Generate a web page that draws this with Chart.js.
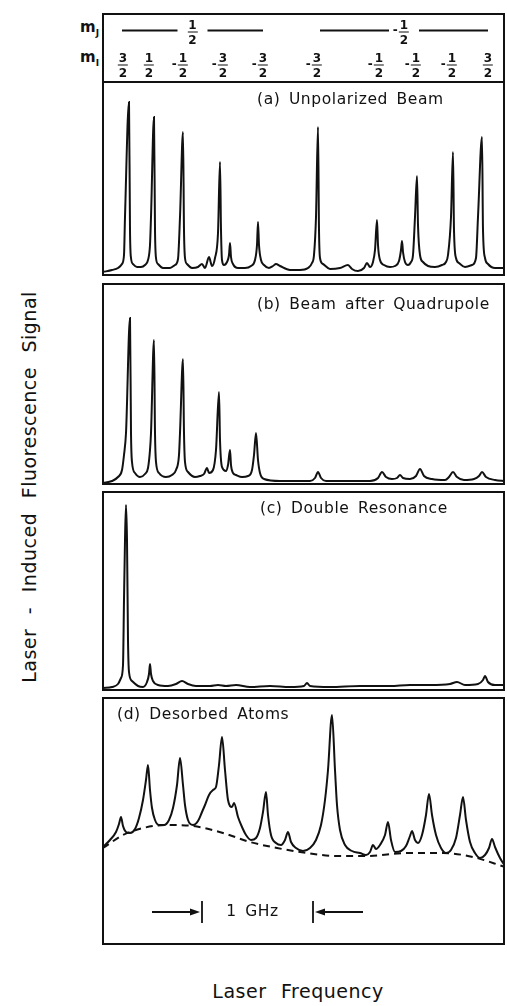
<!DOCTYPE html>
<html>
<head>
<meta charset="utf-8">
<script src="https://cdn.jsdelivr.net/npm/chart.js@4.4.1/dist/chart.umd.min.js"></script>
<style>
    body { margin: 0; width: 507px; height: 1006px; position: relative; overflow: hidden; background: #fff; color: #111; font-family: "DejaVu Sans", sans-serif; }
    .panel { position: absolute; left: 102px; width: 403px; }
    .text { position: absolute; white-space: nowrap; line-height: 1; }
    .title { font-size: 15.5px; letter-spacing: 0.6px; word-spacing: 3px; }
    .quantum { font-size: 15px; font-weight: bold; }
    .quantum sub { font-size: 9px; }
    .frac { position: absolute; display: flex; flex-direction: column; align-items: center; transform: translate(-50%, -50%); font-size: 12px; line-height: 12px; font-weight: bold; }
    .frac .num { border-bottom: 1.5px solid #111; padding: 0 1px 1px; }
    .frac .den { padding-top: 1px; }
    .frac .minus { position: absolute; right: 100%; top: 50%; transform: translateY(-60%); margin-right: 1px; }
    .axis { font-size: 19px; letter-spacing: 0.5px; word-spacing: 8px; }
</style>
</head>
<body>
<div class="panel" style="top: 13px; height: 70px"><canvas id="levels"></canvas></div>
<div class="panel" style="top: 81px; height: 195px"><canvas id="panelA"></canvas></div>
<div class="panel" style="top: 283px; height: 202px"><canvas id="panelB"></canvas></div>
<div class="panel" style="top: 491px; height: 200px"><canvas id="panelC"></canvas></div>
<div class="panel" style="top: 697px; height: 248px"><canvas id="panelD"></canvas></div>

<div class="text quantum" style="left: 80px; top: 20px">m<sub>J</sub></div>
<div class="text quantum" style="left: 80px; top: 50px">m<sub>I</sub></div>
<div class="text title" style="left: 257px; top: 92px">(a) Unpolarized Beam</div>
<div class="text title" style="left: 257px; top: 297px">(b) Beam after Quadrupole</div>
<div class="text title" style="left: 260px; top: 501px">(c) Double Resonance</div>
<div class="text title" style="left: 117px; top: 707px">(d) Desorbed Atoms</div>
<div class="text axis" style="left: 29px; top: 487px; transform: translate(-50%, -50%) rotate(-90deg)">Laser - Induced Fluorescence Signal</div>
<div class="text axis" style="left: 298px; top: 991px; transform: translate(-50%, -50%)">Laser Frequency</div>

<script>
const ink = '#111'

// hyperfine level labels (frequency in the same units as the spectra)
const mJLabels = ['1/2', '-1/2']
const mJRanges = [[20, 161], [218, 386]]
const mILabels = ['3/2', '1/2', '-1/2', '-3/2', '-3/2', '-3/2', '-1/2', '-1/2', '-1/2', '3/2']
const mIFreq = [21, 47, 81, 121, 161, 215, 277, 314, 350, 386]

// (a) Unpolarized Beam
const freqA = [1, 10, 16, 20, 22, 23, 27, 28, 29, 31, 35, 39, 43, 46, 48, 49, 52, 53, 54, 56, 61, 68, 73, 76, 78, 81, 82, 83, 85, 90, 96, 100, 103, 107, 110, 113, 116, 118, 119, 120, 122, 125, 127, 128, 129, 131, 136, 143, 149, 153, 155, 156, 157, 159, 162, 167, 171, 174, 178, 188, 198, 206, 210, 212, 214, 216, 217, 218, 221, 228, 238, 246, 250, 256, 262, 265, 268, 271, 273, 275, 276, 278, 282, 288, 293, 297, 299, 300, 301, 303, 306, 309, 311, 313, 315, 316, 318, 321, 326, 333, 340, 344, 346, 349, 351, 352, 354, 357, 363, 370, 374, 376, 380, 381, 383, 386, 393, 403]
const signalA = [4, 6, 8, 12, 21, 59, 174, 46, 18, 12, 9, 9, 11, 16, 31, 59, 159, 46, 18, 12, 8, 8, 11, 17, 59, 144, 46, 18, 12, 8, 9, 12, 8, 19, 10, 18, 43, 114, 46, 16, 11, 14, 21, 33, 19, 12, 8, 8, 10, 16, 31, 54, 31, 16, 11, 8, 10, 12, 10, 6, 6, 8, 13, 21, 59, 149, 46, 18, 12, 7, 8, 11, 7, 5, 8, 13, 9, 14, 26, 56, 31, 16, 11, 9, 10, 15, 26, 35, 24, 14, 11, 14, 21, 59, 100, 51, 21, 14, 10, 9, 11, 14, 21, 59, 124, 46, 18, 13, 9, 11, 18, 59, 139, 46, 18, 12, 8, 8]

// (b) Beam after Quadrupole
const freqB = [1, 10, 16, 20, 22, 24, 28, 29, 30, 33, 38, 43, 46, 48, 49, 52, 53, 54, 57, 64, 70, 74, 77, 78, 81, 82, 83, 86, 93, 98, 102, 105, 107, 111, 114, 117, 118, 120, 124, 126, 128, 129, 131, 134, 140, 146, 150, 152, 154, 156, 158, 162, 178, 208, 213, 216, 219, 224, 268, 276, 280, 284, 290, 295, 298, 301, 308, 314, 318, 322, 330, 343, 347, 351, 355, 362, 372, 377, 380, 384, 393, 403]
const signalB = [2, 4, 8, 15, 30, 52, 167, 52, 23, 12, 8, 11, 17, 35, 52, 145, 52, 23, 12, 8, 10, 15, 30, 52, 126, 52, 23, 13, 8, 9, 11, 17, 12, 15, 35, 93, 45, 18, 14, 20, 35, 20, 12, 10, 8, 9, 15, 30, 52, 25, 12, 6, 4, 4, 7, 13, 7, 4, 4, 7, 13, 8, 6, 7, 10, 7, 6, 9, 16, 9, 6, 5, 8, 13, 8, 5, 6, 9, 13, 8, 5, 4]

// (c) Double Resonance
const freqC = [1, 10, 16, 19, 21, 22, 23, 24, 25, 26, 27, 30, 36, 41, 45, 47, 48, 49, 51, 56, 66, 74, 80, 86, 94, 108, 116, 124, 134, 148, 168, 188, 202, 205, 208, 228, 258, 288, 308, 328, 348, 355, 363, 376, 381, 383, 386, 393, 403]
const signalC = [3, 4, 7, 13, 26, 91, 151, 186, 151, 51, 19, 10, 5, 4, 9, 17, 27, 17, 10, 6, 5, 7, 10, 7, 5, 5, 6, 5, 6, 4, 5, 4, 5, 8, 5, 4, 5, 5, 6, 6, 7, 9, 6, 7, 11, 15, 9, 6, 6]

// (d) Desorbed Atoms, with the broad background (dashed)
const freqD = [1, 8, 14, 17, 19, 21, 24, 28, 33, 37, 41, 44, 46, 48, 50, 53, 57, 62, 67, 71, 75, 78, 81, 83, 86, 91, 96, 100, 103, 107, 111, 114, 117, 120, 123, 126, 130, 132, 136, 140, 144, 149, 154, 158, 161, 164, 166, 169, 174, 179, 183, 186, 189, 194, 201, 208, 214, 219, 223, 226, 230, 233, 235, 238, 243, 250, 258, 264, 268, 271, 274, 278, 283, 286, 289, 293, 299, 304, 308, 310, 313, 316, 320, 324, 327, 330, 334, 339, 344, 349, 354, 358, 361, 364, 368, 373, 378, 383, 387, 390, 393, 398, 403]
const signalD = [98, 105, 113, 121, 128, 119, 113, 112, 116, 127, 145, 165, 180, 155, 137, 125, 120, 120, 125, 137, 160, 187, 160, 140, 125, 120, 124, 133, 140, 150, 155, 158, 180, 208, 175, 145, 138, 142, 128, 118, 110, 105, 107, 117, 133, 153, 130, 110, 102, 100, 105, 113, 103, 97, 94, 97, 105, 120, 145, 175, 230, 175, 140, 115, 100, 94, 92, 90, 93, 100, 96, 100, 110, 123, 105, 93, 94, 99, 109, 114, 105, 102, 110, 130, 151, 130, 110, 97, 92, 95, 107, 130, 148, 125, 103, 92, 87, 90, 97, 106, 98, 87, 79]
const backgroundFreqD = [1, 21, 41, 65, 91, 121, 148, 175, 205, 235, 265, 305, 341, 371, 403]
const backgroundD = [97, 110, 117, 120, 119, 112, 103, 97, 92, 89, 89, 92, 92, 88, 78]

// 1 GHz scale marker
const ghzSpan = [100, 211]
const ghzLevel = 33

const freqRange = [0, 403]

const frame = {
    id: 'frame',
    afterDraw(chart) {
        const { ctx, chartArea: a } = chart
        ctx.save()
        ctx.strokeStyle = ink
        ctx.lineWidth = 2
        ctx.strokeRect(a.left + 1, a.top + 1, a.width - 2, a.height - 2)
        ctx.restore()
    }
}

const levelLines = {
    id: 'levelLines',
    afterDraw(chart) {
        const { ctx, chartArea: a, scales: { x } } = chart
        const y = a.top + 17.5
        ctx.save()
        ctx.strokeStyle = ink
        ctx.lineWidth = 2
        ctx.beginPath()
        mJRanges.forEach(r => {
            const x0 = x.getPixelForValue(r[0])
            const x1 = x.getPixelForValue(r[1])
            const xc = (x0 + x1) / 2
            ctx.moveTo(x0, y)
            ctx.lineTo(xc - 15, y)
            ctx.moveTo(xc + 15, y)
            ctx.lineTo(x1, y)
        })
        ctx.stroke()
        ctx.restore()
    }
}

function arrowHead(ctx, x, y, dir) {
    ctx.beginPath()
    ctx.moveTo(x, y)
    ctx.lineTo(x - dir * 10, y - 3.5)
    ctx.lineTo(x - dir * 10, y + 3.5)
    ctx.closePath()
    ctx.fill()
}

const gigahertz = {
    id: 'gigahertz',
    afterDatasetsDraw(chart) {
        const { ctx, scales: { x, y } } = chart
        const xa = x.getPixelForValue(ghzSpan[0])
        const xb = x.getPixelForValue(ghzSpan[1])
        const yy = y.getPixelForValue(ghzLevel)
        ctx.save()
        ctx.strokeStyle = ink
        ctx.fillStyle = ink
        ctx.lineWidth = 1.8
        ctx.beginPath()
        ctx.moveTo(xa, yy - 11)
        ctx.lineTo(xa, yy + 11)
        ctx.moveTo(xb, yy - 11)
        ctx.lineTo(xb, yy + 11)
        ctx.moveTo(xa - 50, yy)
        ctx.lineTo(xa - 8, yy)
        ctx.moveTo(xb + 50, yy)
        ctx.lineTo(xb + 8, yy)
        ctx.stroke()
        arrowHead(ctx, xa - 2, yy, 1)
        arrowHead(ctx, xb + 2, yy, -1)
        ctx.restore()
    }
}

function trace(freq, signal, dash = []) {
    return {
        data: freq.map((f, i) => ({ x: f, y: signal[i] })),
        borderColor: ink,
        borderWidth: 2,
        borderDash: dash,
        pointRadius: 0,
        fill: false,
        cubicInterpolationMode: 'monotone'
    }
}

function createChart(id, datasets, top, plugins) {
    return new Chart(document.getElementById(id).getContext('2d'), {
        type: 'line',
        data: { datasets: datasets },
        options: {
            responsive: true,
            maintainAspectRatio: false,
            animation: false,
            events: [],
            layout: { padding: 0 },
            plugins: {
                legend: { display: false },
                tooltip: { enabled: false }
            },
            scales: {
                x: { type: 'linear', min: freqRange[0], max: freqRange[1], display: false },
                y: { min: 0, max: top, display: false }
            }
        },
        plugins: plugins
    })
}

function placeText(html, className, left, top) {
    const el = document.createElement('div')
    el.className = className
    el.innerHTML = html
    el.style.left = left + 'px'
    el.style.top = top + 'px'
    document.body.appendChild(el)
    return el
}

function fractionHtml(text) {
    const neg = text.startsWith('-')
    const [num, den] = text.replace('-', '').split('/')
    return (neg ? '<span class="minus">-</span>' : '') +
        '<span class="num">' + num + '</span><span class="den">' + den + '</span>'
}

document.addEventListener('DOMContentLoaded', () => {

    const levels = createChart('levels', [], 70, [frame, levelLines])

    createChart('panelA', [trace(freqA, signalA)], 195, [frame])
    createChart('panelB', [trace(freqB, signalB)], 202, [frame])
    createChart('panelC', [trace(freqC, signalC)], 200, [frame])
    const panelD = createChart('panelD', [
        trace(freqD, signalD),
        trace(backgroundFreqD, backgroundD, [7, 5])
    ], 248, [frame, gigahertz])

    // level labels placed on the shared frequency scale
    const box = document.getElementById('levels').parentNode
    const x = levels.scales.x
    mJRanges.forEach((r, i) => {
        const xc = (x.getPixelForValue(r[0]) + x.getPixelForValue(r[1])) / 2
        placeText(fractionHtml(mJLabels[i]), 'frac', box.offsetLeft + xc, box.offsetTop + 18.5)
    })
    mILabels.forEach((t, i) => {
        placeText(fractionHtml(t), 'frac', box.offsetLeft + x.getPixelForValue(mIFreq[i]), box.offsetTop + 52)
    })

    const dBox = document.getElementById('panelD').parentNode
    const dx = panelD.scales.x
    const mid = (dx.getPixelForValue(ghzSpan[0]) + dx.getPixelForValue(ghzSpan[1])) / 2
    const ghz = placeText('1 GHz', 'text title', dBox.offsetLeft + mid - 5, dBox.offsetTop + panelD.scales.y.getPixelForValue(ghzLevel))
    ghz.style.transform = 'translate(-50%, -50%)'
})
</script>
</body>
</html>
